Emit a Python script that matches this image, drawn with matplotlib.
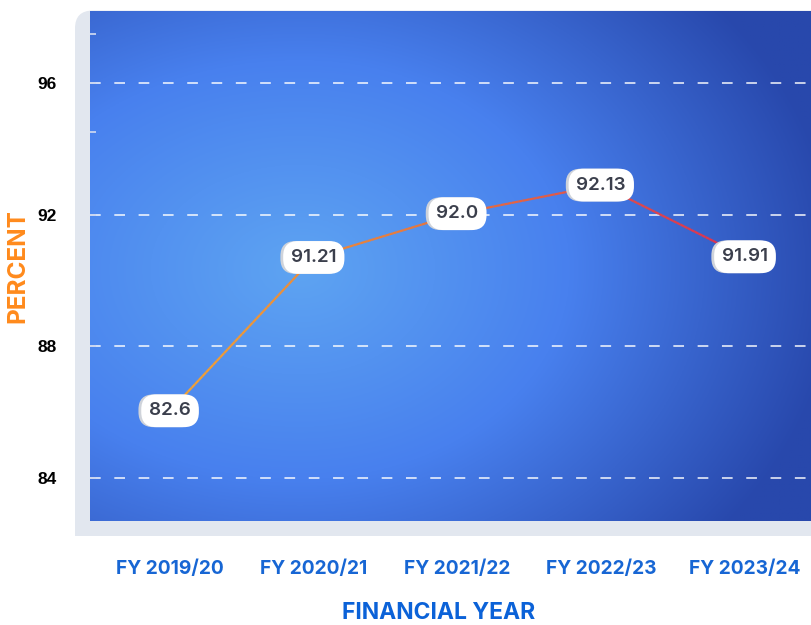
import matplotlib.pyplot as plt
import numpy as np
from matplotlib.collections import LineCollection
from matplotlib.patches import FancyBboxPatch, Rectangle
from matplotlib import patheffects as pe

# data
years = ["FY 2019/20", "FY 2020/21", "FY 2021/22", "FY 2022/23", "FY 2023/24"]
labels = ["82.6", "91.21", "92.0", "92.13", "91.91"]
# vertical position of each point as drawn on the axis
pos = [86.04, 90.70, 92.03, 92.90, 90.72]
yticks = [84, 88, 92, 96]
yminor = [94.5, 97.5]

W, H = 812, 625
fig = plt.figure(figsize=(W / 100, H / 100), dpi=100)

# grey frame behind the plot area (rounded top-left corner)
frame_col = "#e2e7ef"
fig.patches.append(FancyBboxPatch((75 / W, (H - 536) / H), (W - 75 + 40) / W, (536 - 10.5) / H,
                                  boxstyle="round,pad=0,rounding_size=0.022",
                                  transform=fig.transFigure, fc=frame_col, ec="none", zorder=-5,
                                  mutation_aspect=W / H))
fig.patches.append(Rectangle((75 / W, (H - 536) / H), 40 / W, 60 / H,
                             transform=fig.transFigure, fc=frame_col, ec="none", zorder=-5))

ax = fig.add_axes([90 / W, (H - 521) / H, (W - 90) / W, (521 - 10.7) / H])
ax.set_zorder(1)
ax.set_xlim(-0.557, 4.466)
ax.set_ylim(82.69, 98.2)

# radial gradient background
ny, nx = 300, 400
xx, yy = np.meshgrid(np.linspace(90, 812, nx), np.linspace(10.7, 521, ny))
rx = np.where(xx < 300, 600, 540)
r = np.sqrt(((xx - 300) / rx) ** 2 + ((yy - 270) / 420) ** 2)
r = np.clip(r, 0, 1)
c0 = np.array([94, 164, 242]) / 255
c1 = np.array([72, 128, 238]) / 255
c2 = np.array([40, 72, 172]) / 255
t1 = np.clip(r / 0.5, 0, 1)[..., None]
t2 = np.clip((r - 0.5) / 0.5, 0, 1)[..., None]
img = np.where(r[..., None] < 0.5, c0 + (c1 - c0) * t1, c1 + (c2 - c1) * t2)
ax.imshow(img, extent=[-0.557, 4.466, 82.69, 98.2], aspect="auto", zorder=0, origin="upper")

for s in ax.spines.values():
    s.set_visible(False)

ax.set_yticks(yticks)
ax.set_yticks(yminor, minor=True)
ax.yaxis.grid(True, which="major", color="white", alpha=0.75, linewidth=1.4,
              linestyle=(0, (5.5, 7)), zorder=1)
ax.tick_params(axis="y", which="both", direction="in", length=4, width=1.3,
               color="#c9d5f0", pad=24)
for lab in ax.get_yticklabels():
    lab.set_fontfamily("Liberation Sans")
    lab.set_fontweight("bold")
    lab.set_fontsize(12.5)
    lab.set_color("black")

ax.set_xticks(range(len(years)))
ax.set_xticklabels(years, fontsize=13.8, fontweight="bold", color="#1766d4", family="Inter")
ax.tick_params(axis="x", length=0, pad=28)

ax.set_ylabel("PERCENT", fontsize=17.5, fontweight="bold", color="#ff8a1c",
              family="Inter", labelpad=6)
ax.set_xlabel("FINANCIAL YEAR", fontsize=16.5, fontweight="bold", color="#0b62d8",
              family="Inter", va="center")
ax.xaxis.set_label_coords(0.483, -(613 - 521) / (521 - 10.7))

# gradient line orange -> crimson
xs = np.arange(len(pos))
fine_x, fine_y = [], []
for i in range(len(pos) - 1):
    tt = np.linspace(0, 1, 40, endpoint=False)
    fine_x.extend(xs[i] + (xs[i + 1] - xs[i]) * tt)
    fine_y.extend(pos[i] + (pos[i + 1] - pos[i]) * tt)
fine_x.append(xs[-1])
fine_y.append(pos[-1])
pts = np.array([fine_x, fine_y]).T.reshape(-1, 1, 2)
segs = np.concatenate([pts[:-1], pts[1:]], axis=1)
cmap = plt.matplotlib.colors.LinearSegmentedColormap.from_list("oc", ["#f2a434", "#e8703c", "#dc2f52"])
lc = LineCollection(segs, colors=cmap(np.linspace(0, 1, len(segs))), linewidth=1.6, zorder=3)
ax.add_collection(lc)

for x, y, lab in zip(xs, pos, labels):
    t = ax.annotate(lab, (x, y), ha="center", va="center",
                    fontsize=13.5, fontweight="semibold", color="#3b3f4c", family="Inter", zorder=5,
                    bbox=dict(boxstyle="round,pad=0.42,rounding_size=0.8", fc="white", ec="none"))
    t.get_bbox_patch().set_path_effects([
        pe.SimplePatchShadow(offset=(-2, 0), shadow_rgbFace="#cfd3da", alpha=1), pe.Normal()])

fig.savefig("out.png", dpi=100)
